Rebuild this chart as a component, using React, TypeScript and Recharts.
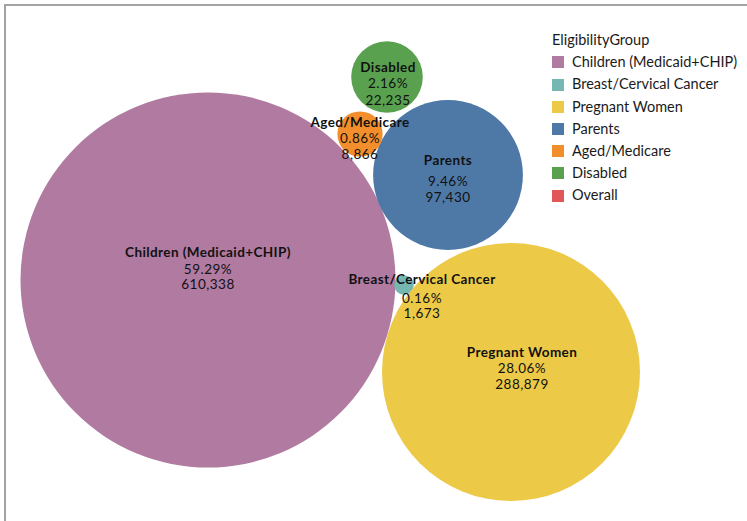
import React from 'react';
import { ScatterChart, Scatter, XAxis, YAxis, ZAxis, Legend, LabelList } from 'recharts';

// eligibility groups, in legend order
const groups = [
  'Children (Medicaid+CHIP)',
  'Breast/Cervical Cancer',
  'Pregnant Women',
  'Parents',
  'Aged/Medicare',
  'Disabled',
  'Overall',
];
const colors = ['#B07AA1', '#76B7B2', '#EDC948', '#4E79A7', '#F28E2B', '#59A14F', '#E15759'];

// enrollment counts and share of total (Overall has no bubble)
const counts = [610338, 1673, 288879, 97430, 8866, 22235];
const shares = [59.29, 0.16, 28.06, 9.46, 0.86, 2.16];

// packed bubble centres in layout units
const packX = [208, 404, 511, 448, 360, 387];
const packY = [280, 285, 372, 175, 134, 77];

// label nudges: [dx, name dy, share dy, count dy]
const labelNudge: Record<string, number[]> = {
  'Children (Medicaid+CHIP)': [0, -28, -11, 4],
  'Breast/Cervical Cancer': [18, -6, 13, 28],
  'Pregnant Women': [11, -20, -4, 12],
  'Parents': [0, -15, 6, 22],
  'Aged/Medicare': [0, -12, 4, 20],
  'Disabled': [1, -10, 6, 23],
};

const W = 747;
const H = 521;
const MAX_R = 187.5;
const FONT = 'Lato, "Open Sans", sans-serif';

const data = counts.map((v, i) => ({
  name: groups[i],
  x: packX[i],
  y: packY[i],
  value: v,
  share: shares[i],
  fill: colors[i],
}));

const Bubble = (props: any) => {
  const size = props.size ?? 0;
  const r = size > 0 ? Math.sqrt(size / Math.PI) : (props.width || 0) / 2;
  return <circle cx={props.cx} cy={props.cy} r={r} fill={props.payload?.fill ?? props.fill} />;
};

const BubbleLabel = (props: any) => {
  const vb = props.viewBox ?? props;
  const cx = vb.x + vb.width / 2;
  const cy = vb.y + vb.height / 2;
  const d = data.find((p) => p.name === props.value);
  if (!d) return null;
  const [dx, n, s, c] = labelNudge[d.name];
  const common = {
    x: cx + dx,
    textAnchor: 'middle' as const,
    dominantBaseline: 'central' as const,
    fontFamily: FONT,
    fontSize: 13.5,
    letterSpacing: 0.5,
    fill: '#111',
  };
  return (
    <g>
      <text {...common} y={cy + n} fontWeight="bold" letterSpacing={0.4}>{d.name}</text>
      <text {...common} y={cy + s}>{d.share.toFixed(2)}%</text>
      <text {...common} y={cy + c}>{d.value.toLocaleString('en-US')}</text>
    </g>
  );
};

const renderLegend = () => (
  <div style={{ fontFamily: FONT, fontSize: 14.5, color: '#1a1a1a', lineHeight: '22.2px' }}>
    <div>EligibilityGroup</div>
    {groups.map((g, i) => (
      <div key={g} style={{ display: 'flex', alignItems: 'center' }}>
        <span style={{ display: 'inline-block', width: 12, height: 12, background: colors[i], marginRight: 8 }} />
        <span>{g}</span>
      </div>
    ))}
  </div>
);

export default function App() {
  return (
    <div style={{ position: 'absolute', left: 0, top: 0, width: W, height: H, background: '#fff', overflow: 'hidden' }}>
      <div style={{ position: 'absolute', left: 4, top: 4, width: W, height: H, borderTop: '2px solid #A3A3A3', borderLeft: '2px solid #A3A3A3' }} />
      <ScatterChart width={W} height={H} margin={{ top: 0, right: 0, bottom: 0, left: 0 }}>
        <XAxis type="number" dataKey="x" domain={[0, W]} hide />
        <YAxis type="number" dataKey="y" domain={[0, H]} reversed hide />
        <ZAxis type="number" dataKey="value" domain={[0, Math.max(...counts)]} range={[0, Math.PI * MAX_R * MAX_R]} />
        <Legend
          layout="vertical"
          align="center"
          verticalAlign="middle"
          content={renderLegend}
          wrapperStyle={{ position: 'absolute', left: 552, top: 29, width: 195, height: 180 }}
        />
        <Scatter data={data} shape={Bubble} isAnimationActive={false}>
          <LabelList dataKey="name" content={BubbleLabel} />
        </Scatter>
      </ScatterChart>
    </div>
  );
}
